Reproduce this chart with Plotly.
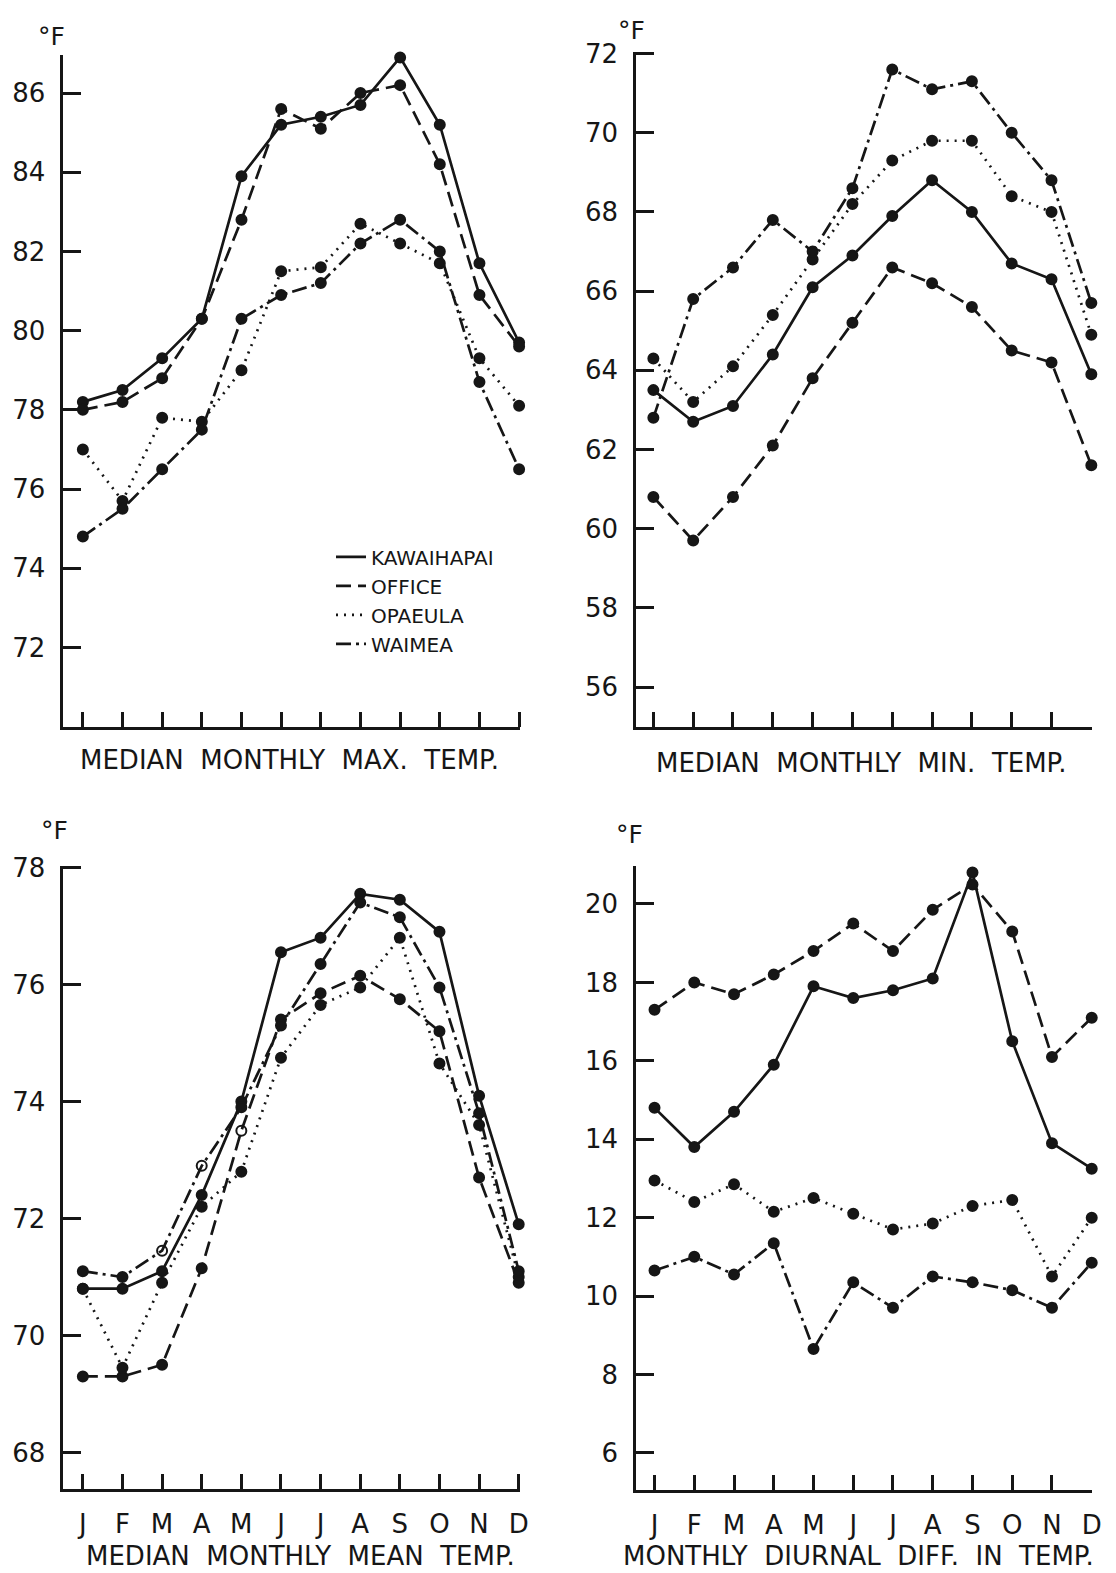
import plotly.graph_objects as go
from plotly.subplots import make_subplots

W, H = 1116, 1573

months = ["J", "F", "M", "A", "M", "J", "J", "A", "S", "O", "N", "D"]
month_idx = list(range(12))

stations = ["KAWAIHAPAI", "OFFICE", "OPAEULA", "WAIMEA"]

# Median monthly maximum temperature (deg F)
max_kawaihapai = [78.2, 78.5, 79.3, 80.3, 83.9, 85.2, 85.4, 85.7, 86.9, 85.2, 81.7, 79.7]
max_office = [78.0, 78.2, 78.8, 80.3, 82.8, 85.6, 85.1, 86.0, 86.2, 84.2, 80.9, 79.6]
max_opaeula = [77.0, 75.7, 77.8, 77.7, 79.0, 81.5, 81.6, 82.7, 82.2, 81.7, 79.3, 78.1]
max_waimea = [74.8, 75.5, 76.5, 77.5, 80.3, 80.9, 81.2, 82.2, 82.8, 82.0, 78.7, 76.5]

# Median monthly minimum temperature (deg F)
min_kawaihapai = [63.5, 62.7, 63.1, 64.4, 66.1, 66.9, 67.9, 68.8, 68.0, 66.7, 66.3, 63.9]
min_office = [60.8, 59.7, 60.8, 62.1, 63.8, 65.2, 66.6, 66.2, 65.6, 64.5, 64.2, 61.6]
min_opaeula = [64.3, 63.2, 64.1, 65.4, 66.8, 68.2, 69.3, 69.8, 69.8, 68.4, 68.0, 64.9]
min_waimea = [62.8, 65.8, 66.6, 67.8, 67.0, 68.6, 71.6, 71.1, 71.3, 70.0, 68.8, 65.7]

# Median monthly mean temperature (deg F)
mean_kawaihapai = [70.8, 70.8, 71.1, 72.4, 74.0, 76.55, 76.8, 77.55, 77.45, 76.9, 74.1, 71.9]
mean_office = [69.3, 69.3, 69.5, 71.15, 73.5, 75.4, 75.85, 76.15, 75.75, 75.2, 72.7, 70.9]
mean_opaeula = [70.8, 69.45, 70.9, 72.2, 72.8, 74.75, 75.65, 75.95, 76.8, 74.65, 73.6, 71.0]
mean_waimea = [71.1, 71.0, 71.45, 72.9, 73.9, 75.3, 76.35, 77.4, 77.15, 75.95, 73.8, 71.1]

# Monthly diurnal difference in temperature (deg F)
diff_kawaihapai = [14.8, 13.8, 14.7, 15.9, 17.9, 17.6, 17.8, 18.1, 20.8, 16.5, 13.9, 13.25]
diff_office = [17.3, 18.0, 17.7, 18.2, 18.8, 19.5, 18.8, 19.85, 20.5, 19.3, 16.1, 17.1]
diff_opaeula = [12.95, 12.4, 12.85, 12.15, 12.5, 12.1, 11.7, 11.85, 12.3, 12.45, 10.5, 12.0]
diff_waimea = [10.65, 11.0, 10.55, 11.35, 8.65, 10.35, 9.7, 10.5, 10.35, 10.15, 9.7, 10.85]

# points plotted as hollow circles on the mean-temperature panel
mean_open_office = [4]
mean_open_waimea = [2, 3]

panel_titles = [
    "MEDIAN MONTHLY MAX. TEMP.",
    "MEDIAN MONTHLY MIN. TEMP.",
    "MEDIAN MONTHLY MEAN TEMP.",
    "MONTHLY DIURNAL DIFF. IN TEMP.",
]

INK = "#161616"
FONT = "DejaVu Sans"
dash_styles = {
    "KAWAIHAPAI": "solid",
    "OFFICE": "15px,7px",
    "OPAEULA": "2px,6px",
    "WAIMEA": "15px,5px,3px,5px",
}

fig = make_subplots(rows=2, cols=2)

# pixel boxes of the four plot areas: (left, right, top, bottom)
boxes = {
    (1, 1): (64, 525, 41, 719),
    (1, 2): (642, 1102, 38, 719),
    (2, 1): (64, 525, 860, 1488),
    (2, 2): (642, 1102, 860, 1489),
}
xranges = {(1, 1): [-0.49, 11.03], (1, 2): [-0.43, 11.02],
           (2, 1): [-0.49, 11.04], (2, 2): [-0.46, 11.01]}
yranges = {(1, 1): [70.0, 86.97], (1, 2): [55.0, 72.05],
           (2, 1): [67.38, 78.02], (2, 2): [5.06, 20.96]}
ytickvals = {(1, 1): [72, 74, 76, 78, 80, 82, 84, 86],
             (1, 2): [56, 58, 60, 62, 64, 66, 68, 70, 72],
             (2, 1): [68, 70, 72, 74, 76, 78],
             (2, 2): [6, 8, 10, 12, 14, 16, 18, 20]}

panels = {
    (1, 1): [max_kawaihapai, max_office, max_opaeula, max_waimea],
    (1, 2): [min_kawaihapai, min_office, min_opaeula, min_waimea],
    (2, 1): [mean_kawaihapai, mean_office, mean_opaeula, mean_waimea],
    (2, 2): [diff_kawaihapai, diff_office, diff_opaeula, diff_waimea],
}

for (r, c), series in panels.items():
    for name, vals in zip(stations, series):
        symbols = ["circle"] * 12
        if (r, c) == (2, 1):
            opens = mean_open_office if name == "OFFICE" else (
                mean_open_waimea if name == "WAIMEA" else [])
            for i in opens:
                symbols[i] = "circle-open"
        fig.add_trace(
            go.Scatter(
                x=month_idx, y=vals, mode="lines+markers", name=name,
                showlegend=False, cliponaxis=False,
                line=dict(color=INK, width=2.7, dash=dash_styles[name]),
                marker=dict(color=INK, size=10, symbol=symbols,
                            line=dict(color=INK, width=2)),
            ),
            row=r, col=c,
        )

# legend entries (line samples only)
for name in stations:
    fig.add_trace(
        go.Scatter(x=[None], y=[None], mode="lines", name=name,
                   showlegend=True,
                   line=dict(color=INK, width=2.7, dash=dash_styles[name])),
        row=1, col=1,
    )

axis_common = dict(
    showline=True, linecolor=INK, linewidth=3, mirror=False,
    showgrid=False, zeroline=False, ticks="inside", tickwidth=3,
    tickcolor=INK, fixedrange=True,
    tickfont=dict(family=FONT, size=26, color=INK),
)

for (r, c), (left, right, top, bottom) in boxes.items():
    fig.update_xaxes(
        domain=[left / W, right / W], range=xranges[(r, c)],
        tickvals=month_idx, ticktext=months, ticklen=15,
        showticklabels=(r == 2), ticklabelstandoff=10,
        row=r, col=c, **axis_common,
    )
    fig.update_yaxes(
        domain=[1 - bottom / H, 1 - top / H], range=yranges[(r, c)],
        tickvals=ytickvals[(r, c)], ticklen=18, ticklabelstandoff=10,
        row=r, col=c, **axis_common,
    )

annotations = []
gap = "\u00a0\u00a0"
title_pos = [(292, 753), (869, 756), (303, 1556), (866, 1556)]
for text, (px, py) in zip(panel_titles, title_pos):
    annotations.append(dict(
        text=text.replace(" ", gap), x=px / W, y=1 - py / H,
        xref="paper", yref="paper", showarrow=False,
        xanchor="center", yanchor="middle",
        font=dict(family=FONT, size=26, color=INK),
    ))
for px, py in [(52, 23), (637, 17), (55, 824), (635, 828)]:
    annotations.append(dict(
        text="°F", x=px / W, y=1 - py / H, xref="paper", yref="paper",
        showarrow=False, xanchor="center", yanchor="middle",
        font=dict(family=FONT, size=25, color=INK),
    ))

fig.update_layout(
    width=W, height=H,
    margin=dict(l=0, r=0, t=0, b=0),
    paper_bgcolor="white", plot_bgcolor="white",
    annotations=annotations,
    legend=dict(
        x=334 / W, y=1 - 528 / H, xanchor="left", yanchor="top",
        bgcolor="rgba(0,0,0,0)", borderwidth=0,
        font=dict(family=FONT, size=20, color=INK),
        tracegroupgap=0,
    ),
)

fig.write_html("out.html")
